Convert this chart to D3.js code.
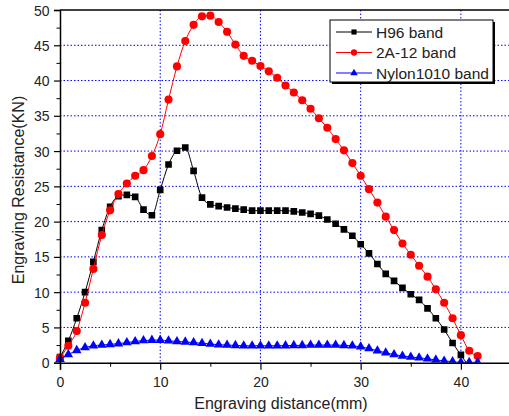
<!DOCTYPE html>
<html lang="en">
<head>
<meta charset="UTF-8">
<title>Engraving Resistance</title>
<script src="https://cdn.jsdelivr.net/npm/d3@7"></script>
<style>
  body { margin: 0; background: #fff; }
  svg { display: block; font-family: "Liberation Sans", Arial, sans-serif; }
</style>
</head>
<body>
<svg id="chart" width="509" height="416"></svg>
<script>
// engraving distance (mm), sample positions
const distance = [
  0, 0.83, 1.67, 2.5, 3.33, 4.17, 5, 5.83, 6.67, 7.5,
  8.33, 9.17, 10, 10.83, 11.67, 12.5, 13.33, 14.17, 15, 15.83,
  16.67, 17.5, 18.33, 19.17, 20, 20.83, 21.67, 22.5, 23.33, 24.17,
  25, 25.83, 26.67, 27.5, 28.33, 29.17, 30, 30.83, 31.67, 32.5,
  33.33, 34.17, 35, 35.83, 36.67, 37.5, 38.33, 39.17, 40, 40.83,
  41.67
];

// resistance values (KN)
const h96 = [
  0.8, 3.1, 6.3, 10.0, 14.3, 18.8, 22.1, 23.6, 23.8, 23.5,
  21.7, 20.9, 24.5, 28.1, 30.05, 30.5, 27.2, 23.4, 22.45, 22.2,
  22.0, 21.85, 21.7, 21.55, 21.55, 21.55, 21.55, 21.55, 21.45, 21.3,
  21.1, 20.85, 20.3, 19.7, 18.9, 18.0, 16.8, 15.5, 14.0, 12.6,
  11.6, 10.6, 9.7, 8.9, 7.7, 6.3, 4.7, 2.8, 1.1, -0.6
];
const a212 = [
  0.7, 2.4, 4.5, 8.5, 13.3, 18.1, 21.6, 23.9, 25.4, 26.5,
  27.3, 29.3, 32.4, 37.3, 42.0, 45.6, 47.9, 49.1, 49.2, 48.3,
  46.9, 45.1, 43.5, 42.8, 42.06, 41.3, 40.4, 39.3, 38.3, 37.2,
  36.0, 34.65, 33.3, 31.7, 30.1, 28.3, 26.5, 24.6, 22.7, 20.7,
  18.8, 16.9, 15.3, 13.75, 12.2, 10.4, 8.5, 6.3, 3.9, 1.7,
  0.95
];
const nylon = [
  0.5, 1.15, 1.75, 2.15, 2.4, 2.5, 2.6, 2.7, 2.85, 3.0,
  3.15, 3.2, 3.2, 3.1, 3.0, 2.95, 2.85, 2.75, 2.65, 2.55,
  2.5, 2.45, 2.4, 2.4, 2.4, 2.4, 2.4, 2.42, 2.45, 2.45,
  2.5, 2.5, 2.5, 2.5, 2.45, 2.4, 2.25, 2.0, 1.7, 1.4,
  1.15, 0.95, 0.8, 0.7, 0.55, 0.4, 0.25, 0.15, 0.05, 0.05,
  0.05
];

const xTicks = [0, 10, 20, 30, 40];
const yTicks = [0, 5, 10, 15, 20, 25, 30, 35, 40, 45, 50];

const series = [
  { name: "H96 band", values: h96, color: "#000000", symbol: d3.symbolSquare, size: 44 },
  { name: "2A-12 band", values: a212, color: "#ff0000", symbol: d3.symbolCircle, size: 52 },
  { name: "Nylon1010 band", values: nylon, color: "#0000ff", symbol: d3.symbolTriangle, size: 40 }
];

const svg = d3.select("#chart");
const margin = { top: 10, left: 60 };
const width = 451, height = 352.7;

const x = d3.scaleLinear().domain([0, 45]).range([0, width]);
const y = d3.scaleLinear().domain([0, 50]).range([height, 0]);

const g = svg.append("g").attr("transform", `translate(${margin.left},${margin.top})`);

// dotted grid
g.append("g").selectAll("line").data(xTicks.filter(d => d > 0)).join("line")
  .attr("x1", d => x(d)).attr("x2", d => x(d)).attr("y1", 0).attr("y2", height)
  .attr("stroke", "#0000ff").attr("stroke-dasharray", "1.5,2").attr("stroke-width", 1);
g.append("g").selectAll("line").data(yTicks.filter(d => d > 0 && d < 50)).join("line")
  .attr("x1", 0).attr("x2", width).attr("y1", d => y(d)).attr("y2", d => y(d))
  .attr("stroke", "#0000ff").attr("stroke-dasharray", "1.5,2").attr("stroke-width", 1);

// clip below the x axis
svg.append("defs").append("clipPath").attr("id", "clip")
  .append("rect").attr("x", -10).attr("y", -10).attr("width", width + 20).attr("height", height + 10);

const plot = g.append("g").attr("clip-path", "url(#clip)");

series.forEach(s => {
  const pts = s.values.map((v, i) => [distance[i], v]);
  plot.append("path")
    .datum(pts)
    .attr("fill", "none")
    .attr("stroke", s.color)
    .attr("stroke-width", 1)
    .attr("d", d3.line().x(d => x(d[0])).y(d => y(d[1])).curve(d3.curveMonotoneX));
  plot.append("g").selectAll("path").data(pts).join("path")
    .attr("transform", d => `translate(${x(d[0])},${y(d[1])})`)
    .attr("d", d3.symbol().type(s.symbol).size(s.size))
    .attr("fill", s.color);
});

// axes
const xAxis = g.append("g").attr("transform", `translate(0,${height})`)
  .call(d3.axisBottom(x).tickValues(xTicks).tickSize(7).tickFormat(d3.format("d")));
g.append("g").attr("transform", `translate(0,${height})`)
  .call(d3.axisBottom(x).tickValues([5, 15, 25, 35]).tickSize(4).tickFormat(""))
  .select(".domain").remove();
const yAxis = g.append("g")
  .call(d3.axisLeft(y).tickValues(yTicks).tickSize(6).tickFormat(d3.format("d")));
g.append("g")
  .call(d3.axisLeft(y).tickValues(d3.range(2.5, 50, 5)).tickSize(3.5).tickFormat(""))
  .select(".domain").remove();

[xAxis, yAxis].forEach(a => {
  a.select(".domain").attr("stroke-width", 1.5);
  a.selectAll(".tick line").attr("stroke-width", 1.2);
  a.selectAll("text").attr("font-size", 14).attr("fill", "#222")
    .attr("font-family", "'Liberation Sans', Arial, sans-serif");
});
xAxis.selectAll("text").attr("dy", "1.05em");
yAxis.selectAll("text").attr("dx", "-0.1em").attr("dy", "0.36em");

// top frame
g.append("line").attr("x1", 0).attr("x2", width).attr("y1", 0).attr("y2", 0)
  .attr("stroke", "#000").attr("stroke-width", 1.5);

// axis titles
svg.append("text")
  .attr("x", 281).attr("y", 409)
  .attr("text-anchor", "middle").attr("font-size", 16).attr("fill", "#222")
  .text("Engraving distance(mm)");
svg.append("text")
  .attr("transform", "translate(24,190) rotate(-90)")
  .attr("text-anchor", "middle").attr("font-size", 16).attr("fill", "#222")
  .text("Engraving Resistance(KN)");

// legend
const legend = svg.append("g").attr("transform", "translate(330,20)");
legend.append("rect").attr("x", 2).attr("y", 2).attr("width", 163).attr("height", 62).attr("fill", "#000");
legend.append("rect").attr("width", 163).attr("height", 62)
  .attr("fill", "#fff").attr("stroke", "#000").attr("stroke-width", 1);
series.forEach((s, i) => {
  const row = legend.append("g").attr("transform", `translate(0,${12 + i * 20.5})`);
  row.append("line").attr("x1", 6).attr("x2", 42).attr("stroke", s.color).attr("stroke-width", 1);
  row.append("path").attr("transform", "translate(24,0)")
    .attr("d", d3.symbol().type(s.symbol).size(s.size * 0.6)).attr("fill", s.color);
  row.append("text").attr("x", 46).attr("dy", "0.36em")
    .attr("font-size", 15.5).attr("fill", "#222").text(s.name);
});
</script>
</body>
</html>
